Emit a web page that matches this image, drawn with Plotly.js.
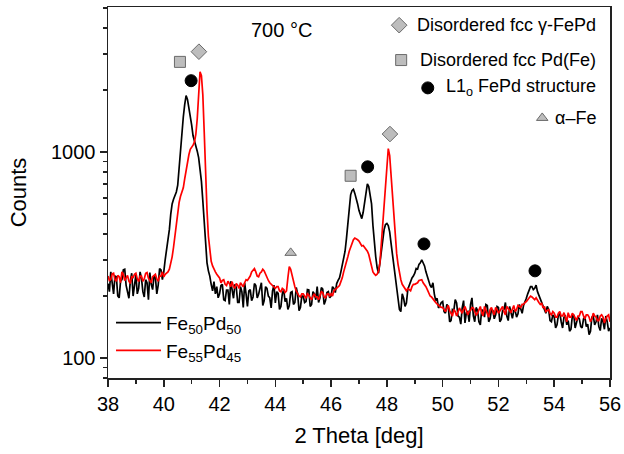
<!DOCTYPE html>
<html>
<head>
<meta charset="utf-8">
<script src="https://cdn.plot.ly/plotly-3.0.1.min.js"></script>
<style>html,body{margin:0;padding:0;background:#fff;}#chart{width:624px;height:454px;}</style>
</head>
<body>
<div id="chart"></div>
<script>
// 2 Theta grid: 38.00 .. 56.00, step 0.05 deg (applied via Plotly x0/dx)
const theta0 = 38.0;
const thetaStep = 0.05;

// Fe50Pd50 counts (black), one row per degree (38.00 .. 38.95, 39.00 .. 39.95, ...)
const fe50pd50 = [
  230, 210, 262, 232, 205, 250, 248, 200, 196, 236, 240, 268, 270, 225, 212, 195, 236, 258, 200, 222,
  254, 205, 218, 262, 244, 210, 198, 240, 232, 192, 260, 228, 215, 250, 246, 205, 226, 272, 268, 240,
  262, 300, 335, 360, 420, 500, 560, 590, 610, 640, 690, 860, 1050, 1250, 1480, 1700, 1880, 1800, 1650, 1520,
  1350, 1200, 1130, 1100, 1010, 940, 830, 720, 580, 440, 340, 290, 265, 250, 228, 212, 235, 205, 222, 196,
  205, 225, 228, 192, 190, 214, 214, 182, 236, 210, 195, 228, 220, 186, 186, 222, 210, 176, 232, 205,
  178, 212, 215, 190, 198, 230, 225, 196, 204, 218, 232, 180, 190, 222, 218, 200, 196, 175, 212, 226,
  185, 210, 206, 172, 178, 205, 215, 188, 195, 172, 180, 208, 210, 182, 186, 220, 205, 170, 176, 200,
  200, 186, 188, 215, 214, 178, 182, 210, 205, 192, 222, 186, 196, 220, 216, 182, 190, 208, 210, 196,
  200, 222, 218, 208, 230, 238, 245, 262, 280, 300, 330, 380, 450, 540, 620, 650, 660, 630, 600, 560,
  520, 490, 475, 510, 580, 650, 700, 680, 620, 560, 440, 360, 310, 275, 258, 290, 330, 370, 420, 445,
  450, 440, 410, 360, 315, 280, 240, 222, 195, 172, 168, 205, 195, 178, 185, 215, 225, 235, 245, 250,
  258, 272, 270, 285, 290, 300, 292, 280, 262, 248, 240, 225, 220, 232, 205, 190, 195, 175, 180, 186,
  188, 168, 165, 182, 178, 150, 152, 172, 170, 192, 185, 160, 158, 146, 175, 190, 148, 166, 168, 150,
  182, 196, 160, 150, 176, 170, 150, 145, 172, 168, 158, 182, 180, 150, 155, 172, 170, 155, 162, 178,
  176, 150, 154, 170, 172, 186, 160, 152, 178, 165, 156, 170, 170, 158, 164, 182, 175, 165, 180, 190,
  195, 205, 212, 222, 222, 215, 218, 226, 210, 202, 196, 185, 180, 172, 165, 178, 172, 152, 150, 162,
  158, 140, 145, 162, 165, 150, 140, 158, 160, 145, 152, 135, 138, 160, 162, 140, 148, 158, 155, 142,
  140, 155, 158, 142, 146, 130, 135, 158, 160, 145, 150, 162, 142, 136, 156, 150, 138, 160, 150, 135,
  140
];

// Fe55Pd45 counts (red)
const fe55pd45 = [
  250, 238, 240, 256, 258, 240, 236, 252, 248, 232, 262, 255, 238, 244, 252, 236, 230, 248, 246, 255,
  258, 242, 235, 250, 250, 236, 242, 258, 260, 244, 238, 232, 248, 252, 255, 242, 236, 250, 250, 262,
  248, 255, 258, 262, 270, 285, 310, 345, 388, 460, 520, 570, 610, 640, 670, 740, 820, 900, 970, 1030,
  1050, 1080, 1120, 1220, 1450, 1900, 2450, 2350, 1900, 1250, 760, 520, 390, 330, 295, 280, 268, 262, 255, 250,
  245, 232, 238, 240, 228, 225, 236, 230, 222, 235, 222, 218, 230, 226, 218, 232, 226, 222, 232, 240,
  238, 245, 250, 262, 268, 272, 262, 250, 248, 258, 262, 270, 265, 255, 245, 238, 232, 228, 225, 220,
  218, 222, 222, 212, 210, 218, 215, 208, 212, 245, 278, 270, 250, 235, 222, 212, 205, 200, 198, 205,
  205, 198, 195, 205, 202, 196, 192, 200, 205, 198, 198, 192, 200, 210, 208, 198, 196, 204, 205, 200,
  205, 200, 212, 215, 218, 222, 225, 235, 245, 262, 280, 300, 310, 330, 345, 360, 375, 382, 380, 375,
  370, 362, 350, 352, 345, 338, 330, 318, 300, 280, 262, 256, 252, 255, 265, 290, 360, 450, 540, 700,
  880, 1040, 960, 780, 640, 500, 380, 322, 285, 255, 240, 228, 222, 215, 212, 218, 215, 212, 222, 228,
  228, 230, 232, 238, 238, 240, 232, 228, 222, 215, 205, 200, 198, 195, 190, 186, 182, 180, 178, 176,
  176, 172, 168, 174, 180, 170, 165, 160, 172, 168, 160, 166, 175, 170, 165, 172, 178, 170, 162, 168,
  170, 176, 175, 168, 162, 165, 172, 178, 166, 160, 178, 170, 164, 158, 172, 176, 168, 162, 176, 172,
  165, 170, 172, 178, 168, 162, 178, 175, 170, 166, 175, 180, 168, 172, 180, 178, 176, 182, 182, 186,
  188, 192, 196, 200, 198, 194, 192, 196, 190, 186, 182, 185, 175, 178, 168, 170, 172, 165, 162, 168,
  165, 158, 158, 165, 168, 160, 160, 166, 155, 150, 166, 158, 158, 165, 162, 156, 152, 160, 160, 168,
  168, 160, 155, 162, 162, 158, 150, 155, 165, 160, 158, 152, 152, 160, 162, 158, 148, 155, 160, 162,
  150
];

const seriesNames = ['Fe<sub>50</sub>Pd<sub>50</sub>', 'Fe<sub>55</sub>Pd<sub>45</sub>'];

// Phase markers placed over the peaks
const gammaX = [41.26, 48.11];
const gammaY = [3070, 1223];
const pdfeX = [40.58, 46.70];
const pdfeY = [2740, 767];
const l10X = [40.98, 47.31, 49.33, 53.31];
const l10Y = [2220, 848, 358, 265];
const alphaX = [44.55];
const alphaY = [324];

// Phase key (top right)
const keyLabels = ['Disordered fcc γ-FePd', 'Disordered fcc Pd(Fe)', 'L1<sub>o</sub> FePd structure', 'α–Fe'];

// ticks
const xMajor = [38, 40, 42, 44, 46, 48, 50, 52, 54, 56];
const xMinor = [39, 41, 43, 45, 47, 49, 51, 53, 55];
const yMajor = [100, 1000];
const yMinor = [80, 90, 200, 300, 400, 500, 600, 700, 800, 900, 2000, 3000, 4000, 5000];

const FONT = 'Liberation Sans, Arial, sans-serif';
const grayFill = '#bdbdbd';
const grayLine = '#6a6a6a';

const mk = (sym, size, fill, edge) => ({symbol: sym, size: size, color: fill, line: {color: edge, width: 1}});

const traces = [
  {type: 'scatter', mode: 'lines', name: seriesNames[0], x0: theta0, dx: thetaStep, y: fe50pd50,
   line: {color: '#000000', width: 1.7}},
  {type: 'scatter', mode: 'lines', name: seriesNames[1], x0: theta0, dx: thetaStep, y: fe55pd45,
   line: {color: '#ff0000', width: 1.7}},
  {type: 'scatter', mode: 'markers', x: gammaX, y: gammaY, showlegend: false, cliponaxis: false,
   marker: mk('diamond', 12, grayFill, grayLine)},
  {type: 'scatter', mode: 'markers', x: pdfeX, y: pdfeY, showlegend: false, cliponaxis: false,
   marker: mk('square', 11, grayFill, grayLine)},
  {type: 'scatter', mode: 'markers', x: l10X, y: l10Y, showlegend: false, cliponaxis: false,
   marker: mk('circle', 12, '#000000', '#000000')},
  {type: 'scatter', mode: 'markers', x: alphaX, y: alphaY, showlegend: false, cliponaxis: false,
   marker: mk('triangle-up', 10, grayFill, grayLine)},
  // key symbols on an overlay 0..1 axis pair
  {type: 'scatter', mode: 'markers', xaxis: 'x2', yaxis: 'y2', showlegend: false, cliponaxis: false,
   x: [0.580], y: [0.951], marker: mk('diamond', 12, grayFill, grayLine)},
  {type: 'scatter', mode: 'markers', xaxis: 'x2', yaxis: 'y2', showlegend: false, cliponaxis: false,
   x: [0.584], y: [0.857], marker: mk('square', 11, grayFill, grayLine)},
  {type: 'scatter', mode: 'markers', xaxis: 'x2', yaxis: 'y2', showlegend: false, cliponaxis: false,
   x: [0.637], y: [0.782], marker: mk('circle', 12, '#000000', '#000000')},
  {type: 'scatter', mode: 'markers', xaxis: 'x2', yaxis: 'y2', showlegend: false, cliponaxis: false,
   x: [0.865], y: [0.701], marker: mk('triangle-up', 10, grayFill, grayLine)}
];

const keyY = [0.951, 0.857, 0.782, 0.701];
const annotations = keyLabels.map((t, i) => ({
  xref: 'paper', yref: 'paper', x: 0.976, y: keyY[i], xanchor: 'right', yanchor: 'middle',
  text: t, showarrow: false, font: {family: FONT, size: 18, color: '#000'}
}));
annotations.push({xref: 'paper', yref: 'paper', x: 0.345, y: 0.938, xanchor: 'center', yanchor: 'middle',
  text: '700 °C', showarrow: false, font: {family: FONT, size: 20, color: '#000'}});

const layout = {
  width: 624, height: 454,
  margin: {l: 108, r: 14, t: 7, b: 76},
  paper_bgcolor: '#ffffff', plot_bgcolor: '#ffffff',
  font: {family: FONT, size: 20, color: '#000'},
  showlegend: true,
  legend: {x: 0.006, y: 0.2, xanchor: 'left', yanchor: 'top', bgcolor: 'rgba(0,0,0,0)',
           font: {family: FONT, size: 19, color: '#000'}, itemwidth: 45, tracegroupgap: 0},
  xaxis: {range: [38, 56], showgrid: false, zeroline: false, showline: true, mirror: true,
          linecolor: '#222', linewidth: 1.5, ticks: 'outside', ticklen: 7, tickwidth: 1.5, tickcolor: '#222',
          tickmode: 'array', tickvals: xMajor, ticktext: xMajor.map(String), tickfont: {size: 20},
          minor: {tickmode: 'array', tickvals: xMinor, ticks: 'outside', ticklen: 4, tickwidth: 1.5, tickcolor: '#222'},
          title: {text: '2 Theta [deg]', font: {size: 22}, standoff: 14}},
  yaxis: {type: 'log', range: [Math.log10(80), Math.log10(5060)], showgrid: false, zeroline: false,
          showline: true, mirror: true, linecolor: '#222', linewidth: 1.5,
          ticks: 'outside', ticklen: 7, tickwidth: 1.5, tickcolor: '#222',
          tickmode: 'array', tickvals: yMajor, ticktext: yMajor.map(String), tickfont: {size: 20},
          minor: {tickmode: 'array', tickvals: yMinor, ticks: 'outside', ticklen: 4, tickwidth: 1.5, tickcolor: '#222'},
          title: {text: 'Counts', font: {size: 22}, standoff: 18}},
  xaxis2: {overlaying: 'x', range: [0, 1], visible: false, fixedrange: true},
  yaxis2: {overlaying: 'y', range: [0, 1], visible: false, fixedrange: true},
  annotations: annotations
};

Plotly.newPlot('chart', traces, layout, {displayModeBar: false, staticPlot: true});
</script>
</body>
</html>
